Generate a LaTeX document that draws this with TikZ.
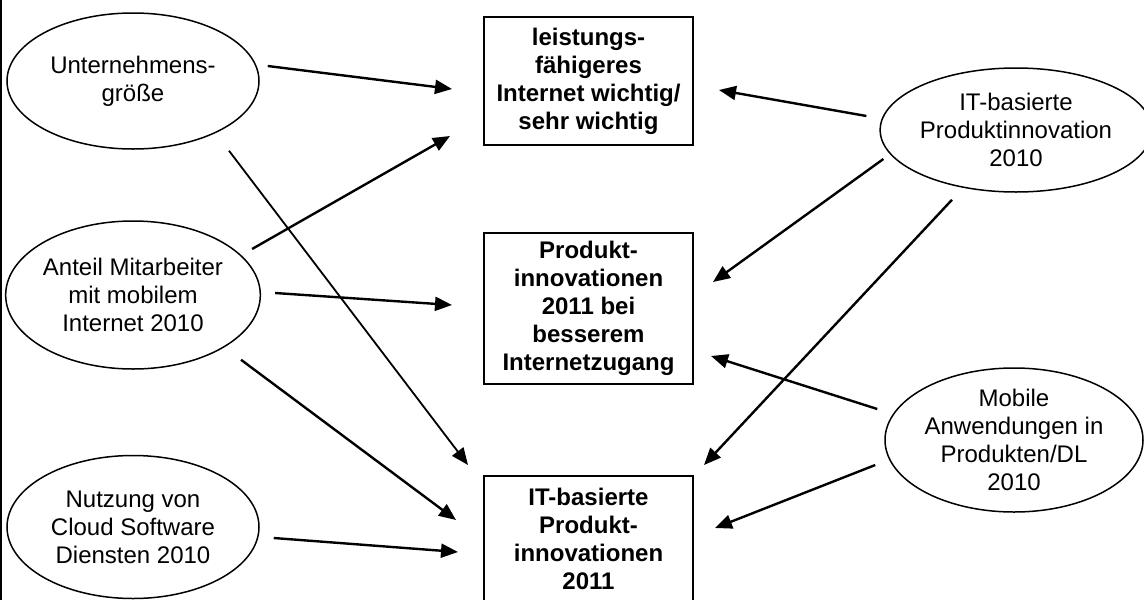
\documentclass[tikz,border=0pt]{standalone}
\usepackage{fontspec}
\setmainfont{Liberation Sans}
\usetikzlibrary{shapes.geometric,arrows.meta}

\begin{document}
\begin{tikzpicture}[x=1pt, y=-1pt,
					every node/.append style={align=center, font=\fontsize{24}{28}\selectfont},
					factor/.style={ellipse, draw, line width=1.5pt, inner sep=0pt},
					target/.style={rectangle, draw, line width=2pt, minimum width=209pt, inner sep=0pt,
						font=\fontsize{24}{28}\selectfont\bfseries},
					effect/.style={line width=2.4pt, -{Triangle[length=17pt,width=14pt]}}]
					\useasboundingbox (0,0) rectangle (1144,600);
					\draw[line width=1.5pt] (1,0) -- (1,600);
					\node[factor, minimum width=252pt, minimum height=136pt] (size) at (133,81) {Unternehmens-\\größe};
					\node[factor, minimum width=252pt, minimum height=148pt] (mobil) at (133,295) {Anteil Mitarbeiter\\mit mobilem\\Internet 2010};
					\node[factor, minimum width=252pt, minimum height=143pt] (cloud) at (133,527) {Nutzung von\\Cloud Software\\Diensten 2010};
					\node[factor, minimum width=254pt, minimum height=124pt] (itprod) at (1016,130) {IT-basierte\\Produktinnovation\\2010};
					\node[factor, minimum width=258pt, minimum height=144pt] (mobapp) at (1014,440) {Mobile\\Anwendungen in\\Produkten/DL\\2010};
					\node[target, minimum height=128pt] (netz) at (588.5,81) {leistungs-\\fähigeres\\Internet wichtig/\\sehr wichtig};
					\node[target, minimum height=151pt] (innov) at (588.5,308.5) {Produkt-\\innovationen\\2011 bei\\besserem\\Internetzugang};
					\node[target, minimum height=126pt] (itinnov) at (588.5,539) {IT-basierte\\Produkt-\\innovationen\\2011};
					\begin{scope}[effect]
					\draw ([shift={(8,-15)}]size.east) -- ([shift={(-31,8)}]netz.west);
					\draw[line width=1.8pt] ([shift={(96,1)}]size.south) -- ([shift={(-15,-10)}]itinnov.north west);
					\draw ([shift={(-9,-46)}]mobil.east) -- ([shift={(-33,-10)}]netz.south west);
					\draw ([shift={(14,-2)}]mobil.east) -- ([shift={(-31,-3.5)}]innov.west);
					\draw ([shift={(108,-10)}]mobil.south) -- ([shift={(-27,-19)}]itinnov.west);
					\draw ([shift={(14,11)}]cloud.east) -- ([shift={(-25,13)}]itinnov.west);
					\draw ([shift={(-13,-14)}]itprod.west) -- ([shift={(25,9)}]netz.east);
					\draw ([shift={(4,29)}]itprod.west) -- ([shift={(19,-26.5)}]innov.east);
					\draw ([shift={(-64,7)}]itprod.south) -- ([shift={(10,-10)}]itinnov.north east);
					\draw ([shift={(-7,-31)}]mobapp.west) -- ([shift={(17,-29)}]innov.south east);
					\draw ([shift={(-9,25)}]mobapp.west) -- ([shift={(21,-11)}]itinnov.east);
					\end{scope}
\end{tikzpicture}
\end{document}
